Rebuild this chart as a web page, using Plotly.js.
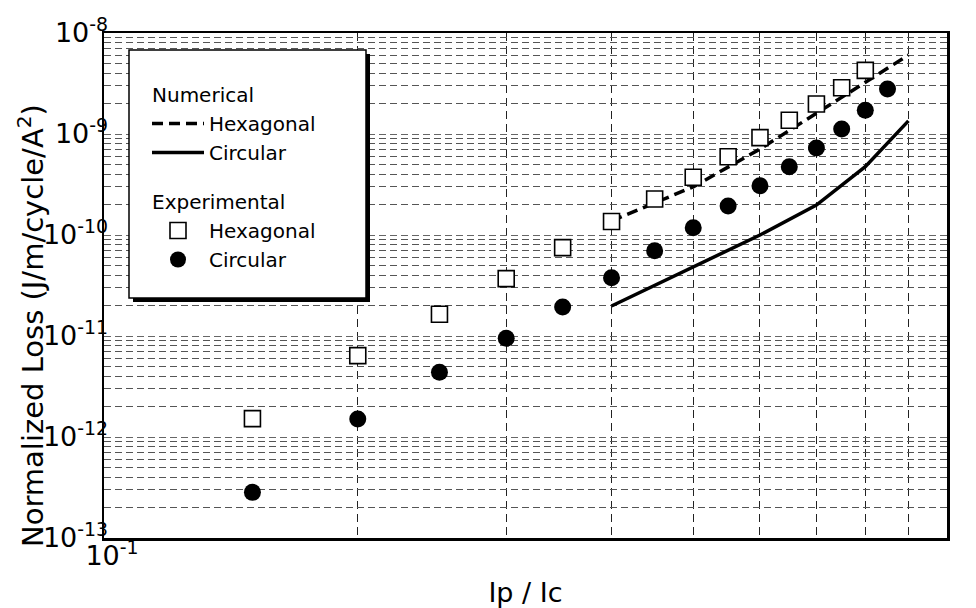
<!DOCTYPE html>
<html>
<head>
<meta charset="utf-8">
<script src="https://cdn.plot.ly/plotly-3.0.1.min.js"></script>
<style>html,body{margin:0;padding:0;background:#fff;}#chart{width:976px;height:608px;}</style>
</head>
<body>
<div id="chart"></div>
<script>
// ---- data ----
var xExpHex = [0.15, 0.2, 0.25, 0.3, 0.35, 0.4, 0.45, 0.5, 0.55, 0.6, 0.65, 0.7, 0.75, 0.8];
var lossExpHex = [1.52e-12, 6.4e-12, 1.64e-11, 3.7e-11, 7.5e-11, 1.36e-10, 2.27e-10, 3.73e-10, 5.96e-10, 9.2e-10, 1.37e-9, 1.98e-9, 2.87e-9, 4.27e-9];
var xExpCirc = [0.15, 0.2, 0.25, 0.3, 0.35, 0.4, 0.45, 0.5, 0.55, 0.6, 0.65, 0.7, 0.75, 0.8, 0.85];
var lossExpCirc = [2.83e-13, 1.51e-12, 4.37e-12, 9.5e-12, 1.94e-11, 3.78e-11, 7.0e-11, 1.18e-10, 1.94e-10, 3.08e-10, 4.74e-10, 7.27e-10, 1.12e-9, 1.72e-9, 2.79e-9];
var xNum = [0.4, 0.5, 0.6, 0.7, 0.8, 0.9];
var lossNumHex = [1.38e-10, 3.0e-10, 7.1e-10, 1.61e-9, 3.27e-9, 6.05e-9];
var lossNumCirc = [1.98e-11, 4.8e-11, 1.0e-10, 1.98e-10, 4.74e-10, 1.35e-9];

var xTickVals = [0.1, 1];
var xTickText = ['10<sup>-1</sup>', '10<sup>0</sup>'];
var yTickVals = [1e-13, 1e-12, 1e-11, 1e-10, 1e-9, 1e-8];
var yTickText = ['10<sup>-13</sup>', '10<sup>-12</sup>', '10<sup>-11</sup>', '10<sup>-10</sup>', '10<sup>-9</sup>', '10<sup>-8</sup>'];
var minorDigits = [2, 3, 4, 5, 6, 7, 8, 9];
var xMinorDecades = [0.1];
var yMinorDecades = [1e-13, 1e-12, 1e-11, 1e-10, 1e-9];

var xMinor = [];
xMinorDecades.forEach(function (d) { minorDigits.forEach(function (k) { xMinor.push(d * k); }); });
var yMinor = [];
yMinorDecades.forEach(function (d) { minorDigits.forEach(function (k) { yMinor.push(d * k); }); });

var FONT = 'DejaVu Sans, Verdana, sans-serif';
var LEG = 20;

var traces = [
  {x: xNum, y: lossNumHex, name: 'Hexagonal', mode: 'lines', type: 'scatter',
   line: {color: '#000', width: 3.5, dash: '11px,6px'},
   legendgroup: 'num', legendgrouptitle: {text: 'Numerical', font: {size: LEG, family: FONT, color: '#000'}}},
  {x: xNum, y: lossNumCirc, name: 'Circular', mode: 'lines', type: 'scatter',
   line: {color: '#000', width: 3.5},
   legendgroup: 'num'},
  {x: xExpHex, y: lossExpHex, name: 'Hexagonal', mode: 'markers', type: 'scatter',
   marker: {symbol: 'square', size: 16, color: '#fff', line: {color: '#000', width: 1.6}},
   legendgroup: 'exp', legendgrouptitle: {text: 'Experimental', font: {size: LEG, family: FONT, color: '#000'}}},
  {x: xExpCirc, y: lossExpCirc, name: 'Circular', mode: 'markers', type: 'scatter',
   marker: {symbol: 'circle', size: 17, color: '#000', line: {width: 0}},
   legendgroup: 'exp'}
];

function px2x(px) { return (px - 104) / 843; }
function px2y(py) { return (538 - py) / 505; }

var layout = {
  width: 976, height: 608,
  margin: {l: 104, r: 29, t: 33, b: 70, pad: 0},
  paper_bgcolor: '#fff', plot_bgcolor: '#fff',
  font: {family: FONT, color: '#000', size: 22},
  showlegend: true,
  legend: {
    x: px2x(147), y: px2y(75), xanchor: 'left', yanchor: 'top',
    bgcolor: 'rgba(0,0,0,0)', borderwidth: 0,
    font: {size: LEG, family: FONT, color: '#000'},
    traceorder: 'grouped', tracegroupgap: 20, itemwidth: 52
  },
  xaxis: {
    type: 'log', range: [-1, 0],
    tickmode: 'array', tickvals: xTickVals, ticktext: xTickText,
    ticks: '', tickfont: {size: 27, family: FONT, color: '#000'},
    ticklabelshift: 8, ticklabelstandoff: -8,
    showline: true, mirror: true, linecolor: '#000', linewidth: 2.5,
    showgrid: false, zeroline: false,
    minor: {tickmode: 'array', tickvals: xMinor, showgrid: true, gridcolor: '#222', gridwidth: 1, griddash: '8px,5px', ticks: ''},
    title: {text: 'Ip / Ic', font: {size: 27, family: FONT, color: '#000'}, standoff: 22}
  },
  yaxis: {
    type: 'log', range: [-13, -8],
    tickmode: 'array', tickvals: yTickVals, ticktext: yTickText,
    ticks: '', tickfont: {size: 27, family: FONT, color: '#000'},
    ticklabelstandoff: -12,
    showline: true, mirror: true, linecolor: '#000', linewidth: 2.5,
    showgrid: true, gridcolor: '#666', gridwidth: 1, griddash: '7px,4px', zeroline: false,
    minor: {tickmode: 'array', tickvals: yMinor, showgrid: true, gridcolor: '#555', gridwidth: 1, griddash: '7px,4px', ticks: ''}
  },
  annotations: [{
    text: 'Normalized Loss (J/m/cycle/A<sup>2</sup>)',
    xref: 'paper', yref: 'paper', x: px2x(31), y: px2y(326),
    xanchor: 'center', yanchor: 'middle', textangle: -90, showarrow: false,
    font: {size: 29, family: FONT, color: '#000'}
  }],
  shapes: [
    {type: 'rect', xref: 'paper', yref: 'paper', x0: px2x(133), x1: px2x(370), y0: px2y(302), y1: px2y(54),
     fillcolor: '#000', line: {width: 0}, layer: 'above'},
    {type: 'rect', xref: 'paper', yref: 'paper', x0: px2x(129), x1: px2x(366), y0: px2y(298), y1: px2y(50),
     fillcolor: '#fff', line: {color: '#000', width: 1.5}, layer: 'above'}
  ]
};

Plotly.newPlot('chart', traces, layout, {displayModeBar: false, staticPlot: true});
</script>
</body>
</html>
